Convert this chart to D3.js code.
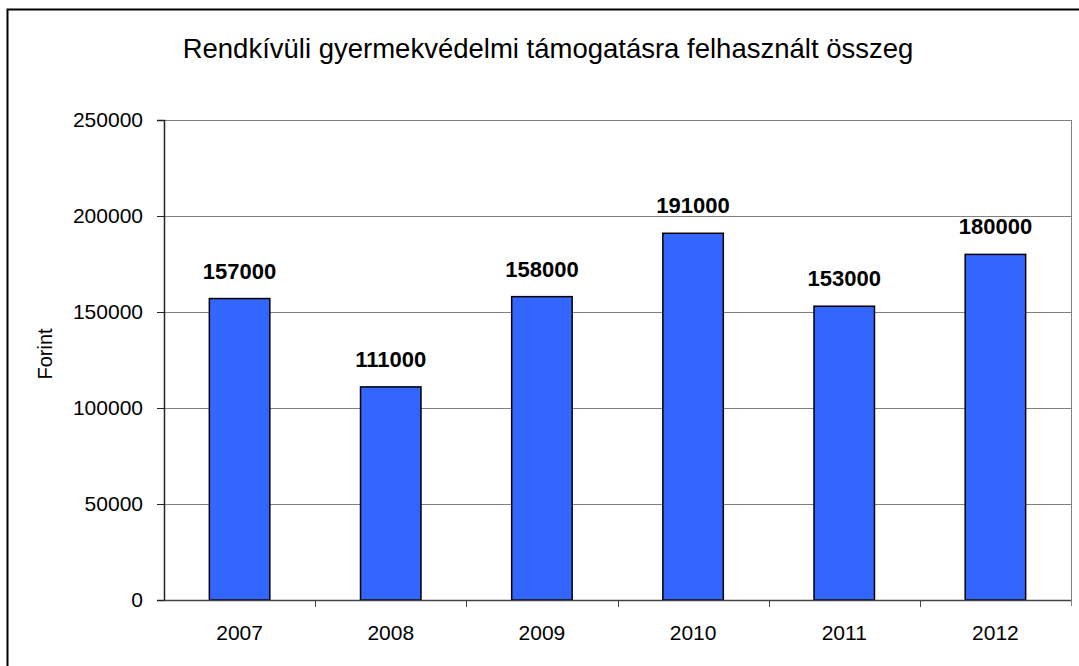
<!DOCTYPE html>
<html>
<head>
<meta charset="utf-8">
<script src="https://d3js.org/d3.v7.min.js"></script>
<style>
  body { margin: 0; background: #fff; }
  text { font-family: "Liberation Sans", Arial, sans-serif; }
</style>
</head>
<body>
<div id="chart"></div>
<script>
var years = ["2007", "2008", "2009", "2010", "2011", "2012"];
var amounts = [157000, 111000, 158000, 191000, 153000, 180000];
var yTicks = [0, 50000, 100000, 150000, 200000, 250000];

var width = 1079,
    height = 666;
var plot = { left: 164, right: 1071, top: 120, bottom: 600 };
var fontFam = "'Liberation Sans', Arial, sans-serif";

var svg = d3.select("#chart")
  .append("svg")
    .attr("width", width)
    .attr("height", height);

svg.append("rect")
  .attr("width", width)
  .attr("height", height)
  .attr("fill", "#fff");

// outer frame
svg.append("path")
  .attr("d", "M7.5," + height + "V9.5H" + (width + 2))
  .attr("fill", "none")
  .attr("stroke", "#000")
  .attr("stroke-width", 2);

var x = d3.scaleBand()
  .domain(years)
  .range([plot.left, plot.right])
  .paddingInner(0.6)
  .paddingOuter(0.3);

var y = d3.scaleLinear()
  .domain([0, 250000])
  .range([plot.bottom, plot.top]);

// gridlines
svg.selectAll(".grid")
  .data(yTicks.slice(1))
  .enter()
  .append("line")
    .attr("x1", plot.left)
    .attr("x2", plot.right)
    .attr("y1", function(d) { return Math.round(y(d)) + 0.5; })
    .attr("y2", function(d) { return Math.round(y(d)) + 0.5; })
    .attr("stroke", "#808080")
    .attr("stroke-width", 1);

// right edge of plot area
svg.append("line")
  .attr("x1", plot.right + 0.5)
  .attr("x2", plot.right + 0.5)
  .attr("y1", plot.top)
  .attr("y2", plot.bottom + 6)
  .attr("stroke", "#808080");

// bars
svg.selectAll(".bar")
  .data(amounts)
  .enter()
  .append("rect")
    .attr("x", function(d, i) { return x(years[i]); })
    .attr("y", function(d) { return y(d); })
    .attr("width", x.bandwidth())
    .attr("height", function(d) { return y(0) - y(d); })
    .attr("fill", "#3366ff")
    .attr("stroke", "#000")
    .attr("stroke-width", 1.5);

// value labels
svg.selectAll(".val")
  .data(amounts)
  .enter()
  .append("text")
    .attr("x", function(d, i) { return x(years[i]) + x.bandwidth() / 2; })
    .attr("y", function(d) { return y(d) - 20; })
    .attr("text-anchor", "middle")
    .style("font-size", "22px")
    .style("font-weight", "bold")
    .text(function(d) { return d; });

// y axis
var yAxis = svg.append("g")
  .attr("transform", "translate(" + plot.left + ",0)")
  .call(d3.axisLeft(y).tickValues(yTicks).tickSize(7).tickPadding(14).tickFormat(d3.format("d")));
yAxis.select(".domain").attr("stroke", "#222").attr("stroke-width", 1.5);
yAxis.selectAll(".tick line").attr("stroke", "#222");
yAxis.selectAll("text").style("font-size", "21px").attr("fill", "#000")
  .style("font-family", fontFam);

// x axis
var xEdges = d3.scaleBand().domain(years).range([plot.left, plot.right]);
var xAxis = svg.append("g")
  .attr("transform", "translate(0," + plot.bottom + ")")
  .call(d3.axisBottom(x).tickSize(0).tickPadding(25));
xAxis.select(".domain").remove();
xAxis.selectAll("text").style("font-size", "21px").attr("fill", "#000")
  .style("font-family", fontFam);

svg.append("line")
  .attr("x1", plot.left)
  .attr("x2", plot.right)
  .attr("y1", plot.bottom + 0.5)
  .attr("y2", plot.bottom + 0.5)
  .attr("stroke", "#444")
  .attr("stroke-width", 1.5);

svg.selectAll(".xtick")
  .data(years.slice(1))
  .enter()
  .append("line")
    .attr("x1", function(d) { return Math.round(xEdges(d)) + 0.5; })
    .attr("x2", function(d) { return Math.round(xEdges(d)) + 0.5; })
    .attr("y1", plot.bottom)
    .attr("y2", plot.bottom + 7)
    .attr("stroke", "#444");

// y axis title
svg.append("text")
  .attr("transform", "translate(52,354) rotate(-90)")
  .attr("text-anchor", "middle")
  .style("font-size", "20px")
  .text("Forint");

// title
svg.append("text")
  .attr("x", 548)
  .attr("y", 58)
  .attr("text-anchor", "middle")
  .style("font-size", "27.5px")
  .text("Rendkívüli gyermekvédelmi támogatásra felhasznált összeg");
</script>
</body>
</html>
